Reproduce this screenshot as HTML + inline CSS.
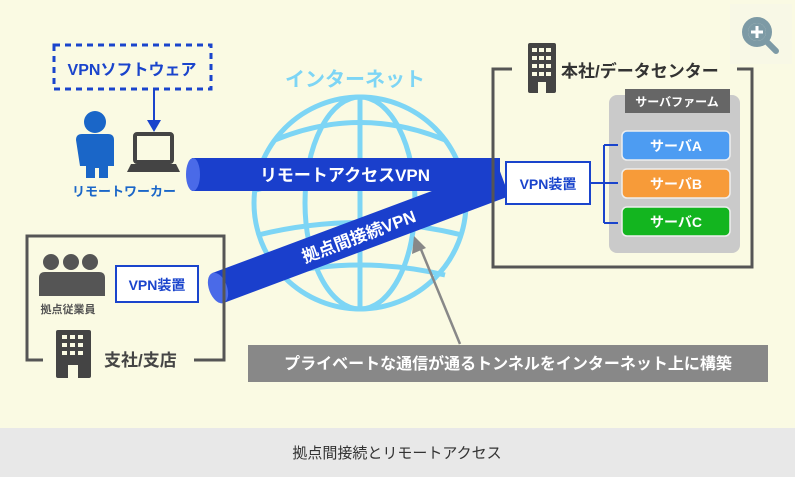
<!DOCTYPE html>
<html><head><meta charset="utf-8"><style>
html,body{margin:0;padding:0;background:#fafae3;}
svg{display:block;font-family:"Liberation Sans","Noto Sans CJK JP",sans-serif;font-weight:bold;}
</style></head><body>
<svg width="795" height="477" viewBox="0 0 795 477" xmlns="http://www.w3.org/2000/svg">
<rect width="795" height="477" fill="#fafae3"/>
<rect x="0" y="428" width="795" height="49" fill="#e8e8e8"/>
<text x="397" y="458" font-size="15" font-weight="normal" fill="#333" text-anchor="middle">拠点間接続とリモートアクセス</text>
<!-- zoom icon -->
<rect x="730" y="4" width="62" height="60" fill="#f8f8e6"/>
<circle cx="757" cy="32" r="12" fill="none" stroke="#7d9aa5" stroke-width="6"/>
<circle cx="757" cy="32" r="9" fill="#7d9aa5"/>
<path d="M751 32h12M757 26v12" stroke="#fff" stroke-width="3"/>
<path d="M766 41l10 10" stroke="#7d9aa5" stroke-width="6" stroke-linecap="round"/>
<!-- VPN software -->
<rect x="54" y="45" width="157" height="44" fill="none" stroke="#1a44cc" stroke-width="3" stroke-dasharray="6,5"/>
<text x="132" y="75" font-size="16" fill="#1a44cc" text-anchor="middle">VPNソフトウェア</text>
<path d="M154 89v32" stroke="#1a44cc" stroke-width="2"/>
<path d="M147 120l7 12 7-12z" fill="#1a44cc"/>
<!-- person -->
<circle cx="95" cy="122" r="11" fill="#1a66c8"/>
<path d="M76 140q0-6 6-6h26q6 0 6 6v26h-6v12h-9v-10h-4v10h-9v-12h-6z" fill="#1a66c8"/>
<!-- laptop -->
<rect x="135" y="134" width="37" height="28" rx="2" fill="none" stroke="#444" stroke-width="4"/>
<path d="M131 164h45l4 8h-53z" fill="#444"/>
<text x="124" y="196" font-size="13" fill="#1a66c8" text-anchor="middle">リモートワーカー</text>
<!-- globe -->
<g fill="none" stroke="#7dd5f5" stroke-width="5">
<circle cx="360" cy="203" r="106"/>
<ellipse cx="360" cy="203" rx="55" ry="106"/>
<line x1="360" y1="97" x2="360" y2="309"/>
<path d="M275 140 Q360 105 445 140"/>
<path d="M256 190 Q360 160 464 190"/>
<path d="M258 235 Q360 210 462 235"/>
<path d="M275 275 Q360 255 445 275"/>
</g>
<text x="355" y="86" font-size="20" fill="#7dd5f5" text-anchor="middle">インターネット</text>
<!-- site tube -->
<g transform="translate(218,288) rotate(-20.5)">
<rect x="0" y="-16" width="305" height="32" fill="#1a3fcc"/>
<ellipse cx="0" cy="0" rx="9" ry="16" fill="#4a6ae8"/>
<text x="150" y="7" font-size="17" fill="#fff" text-anchor="middle">拠点間接続VPN</text>
</g>
<!-- remote tube -->
<rect x="192" y="158" width="308" height="33" fill="#1a3fcc"/>
<ellipse cx="193" cy="174.5" rx="7" ry="16.5" fill="#4a6ae8"/>
<text x="345" y="181" font-size="17" fill="#fff" text-anchor="middle">リモートアクセスVPN</text>
<!-- HQ -->
<path d="M512 69h-19v198h259v-198h-15" fill="none" stroke="#555" stroke-width="3"/>
<rect x="528" y="43" width="28" height="50" rx="2" fill="#444"/>
<g fill="#fafae3"><rect x="532" y="48" width="5" height="4"/><rect x="539" y="48" width="5" height="4"/><rect x="546" y="48" width="5" height="4"/><rect x="532" y="56" width="5" height="4"/><rect x="539" y="56" width="5" height="4"/><rect x="546" y="56" width="5" height="4"/><rect x="532" y="64" width="5" height="4"/><rect x="539" y="64" width="5" height="4"/><rect x="546" y="64" width="5" height="4"/><rect x="532" y="72" width="5" height="4"/><rect x="539" y="72" width="5" height="4"/><rect x="546" y="72" width="5" height="4"/><rect x="538" y="82" width="8" height="11"/></g>
<text x="561" y="77" font-size="17" fill="#333">本社/データセンター</text>
<rect x="506" y="162" width="84" height="42" fill="#fff" stroke="#1a44cc" stroke-width="2"/>
<text x="548" y="189" font-size="14" fill="#1a44cc" text-anchor="middle">VPN装置</text>
<rect x="609" y="95" width="131" height="158" rx="8" fill="#cacaca"/>
<rect x="625" y="89" width="105" height="24" fill="#666"/>
<text x="677" y="106" font-size="12" fill="#fff" text-anchor="middle">サーバファーム</text>
<path d="M590 183h14M604 145v78M604 145h14M604 223h14M604 183h14" stroke="#1a44cc" stroke-width="2" fill="none"/>
<rect x="622" y="131" width="108" height="29" rx="5" fill="#4d9cf2" stroke="#eee" stroke-width="1.5"/>
<rect x="622" y="169" width="108" height="29" rx="5" fill="#f79b39" stroke="#eee" stroke-width="1.5"/>
<rect x="622" y="207" width="108" height="29" rx="5" fill="#13b51f" stroke="#eee" stroke-width="1.5"/>
<g font-size="14" fill="#fff" text-anchor="middle"><text x="676" y="151">サーバA</text><text x="676" y="189">サーバB</text><text x="676" y="227">サーバC</text></g>
<!-- branch -->
<path d="M43 360h-16v-124h197v124h-30" fill="none" stroke="#555" stroke-width="3"/>
<g fill="#555">
<circle cx="51" cy="262" r="8"/><circle cx="71" cy="262" r="8"/><circle cx="90" cy="262" r="8"/>
<path d="M39 296v-18q0-6 6-6h54q6 0 6 6v18z"/>
</g>
<text x="68" y="313" font-size="11" fill="#555" text-anchor="middle">拠点従業員</text>
<rect x="116" y="266" width="82" height="36" fill="#fff" stroke="#1a44cc" stroke-width="2"/>
<text x="157" y="290" font-size="14" fill="#1a44cc" text-anchor="middle">VPN装置</text>
<rect x="56" y="330" width="35" height="48" rx="2" fill="#444"/>
<g fill="#fafae3"><rect x="62" y="335" width="5" height="4"/><rect x="70" y="335" width="5" height="4"/><rect x="78" y="335" width="5" height="4"/><rect x="62" y="343" width="5" height="4"/><rect x="70" y="343" width="5" height="4"/><rect x="78" y="343" width="5" height="4"/><rect x="62" y="351" width="5" height="4"/><rect x="70" y="351" width="5" height="4"/><rect x="78" y="351" width="5" height="4"/><rect x="68" y="365" width="10" height="13"/></g>
<text x="104" y="366" font-size="17" fill="#444">支社/支店</text>
<!-- callout -->
<path d="M460 344L420 247" stroke="#888" stroke-width="2.5"/>
<path d="M414 236l-2 18 14-6z" fill="#888"/>
<rect x="248" y="345" width="520" height="37" fill="#888"/>
<text x="508" y="369" font-size="16" fill="#fff" text-anchor="middle">プライベートな通信が通るトンネルをインターネット上に構築</text>
</svg>
</body></html>
